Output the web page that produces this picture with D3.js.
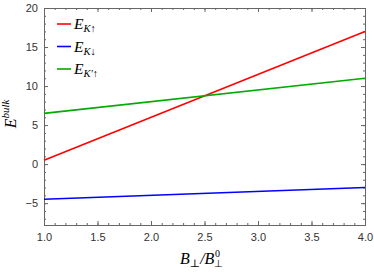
<!DOCTYPE html>
<html>
<head>
<meta charset="utf-8">
<script src="https://cdnjs.cloudflare.com/ajax/libs/d3/7.8.5/d3.min.js"></script>
<style>
  body { margin: 0; background: #fff; }
  .tick text { font-family: "Liberation Sans", Arial, sans-serif; font-size: 11px; fill: #333; }
  .math { font-family: "Liberation Serif", "DejaVu Serif", serif; font-style: italic; }
</style>
</head>
<body>
<div id="chart"></div>
<script>
// field values, B / B0 from 1 to 4
var xVals = [1, 4];
var eKup = [0.5, 17];
var eKdown = [-4.5, -3];
var eKpUp = [6.5, 11];
var seriesNames = ["K\u2191", "K\u2193", "K\u2032\u2191"];
var seriesColors = ["#ff0000", "#0000ff", "#00aa00"];
var xTicks = [1.0, 1.5, 2.0, 2.5, 3.0, 3.5, 4.0];
var yTicks = [-5, 0, 5, 10, 15, 20];

var W = 374, H = 273;
var margin = {left: 44, right: 9, top: 8, bottom: 48};

var svg = d3.select("#chart").append("svg")
    .attr("width", W).attr("height", H);

var x = d3.scaleLinear().domain([1, 4]).range([margin.left, W - margin.right]);
var y = d3.scaleLinear().domain([-7.8, 20]).range([H - margin.bottom, margin.top]);

var xMinor = d3.range(1, 4.0001, 0.1);
var yMinor = d3.range(-7, 20.001, 1);

function fmt(d) { return d < 0 ? "\u2212" + Math.abs(d) : d; }

// frame ticks on all four sides, pointing inward
var g = svg.append("g");
g.append("g").attr("transform", "translate(0," + y.range()[0] + ")")
    .call(d3.axisBottom(x).tickValues(xTicks).tickFormat(d3.format(".1f")).tickSize(-4).tickPadding(8));
g.append("g").attr("transform", "translate(0," + y.range()[0] + ")")
    .call(d3.axisBottom(x).tickValues(xMinor).tickFormat("").tickSize(-2));
g.append("g").attr("transform", "translate(0," + y.range()[1] + ")")
    .call(d3.axisTop(x).tickValues(xTicks).tickFormat("").tickSize(-4));
g.append("g").attr("transform", "translate(0," + y.range()[1] + ")")
    .call(d3.axisTop(x).tickValues(xMinor).tickFormat("").tickSize(-2));
g.append("g").attr("transform", "translate(" + x.range()[0] + ",0)")
    .call(d3.axisLeft(y).tickValues(yTicks).tickFormat(fmt).tickSize(-4).tickPadding(6));
g.append("g").attr("transform", "translate(" + x.range()[0] + ",0)")
    .call(d3.axisLeft(y).tickValues(yMinor).tickFormat("").tickSize(-2));
g.append("g").attr("transform", "translate(" + x.range()[1] + ",0)")
    .call(d3.axisRight(y).tickValues(yTicks).tickFormat("").tickSize(-4));
g.append("g").attr("transform", "translate(" + x.range()[1] + ",0)")
    .call(d3.axisRight(y).tickValues(yMinor).tickFormat("").tickSize(-2));
g.selectAll(".domain").attr("stroke", "#666");
g.selectAll(".tick line").attr("stroke", "#666");

var line = d3.line().x(function(d) { return x(d[0]); }).y(function(d) { return y(d[1]); });
[eKup, eKdown, eKpUp].forEach(function(s, i) {
    svg.append("path")
        .datum(xVals.map(function(xv, j) { return [xv, s[j]]; }))
        .attr("d", line)
        .attr("fill", "none")
        .attr("stroke", seriesColors[i])
        .attr("stroke-width", 1.6);
});

// legend
var leg = svg.append("g");
seriesNames.forEach(function(n, i) {
    var ly = 24 + i * 22.5;
    leg.append("line").attr("x1", 57).attr("x2", 71).attr("y1", ly).attr("y2", ly)
        .attr("stroke", seriesColors[i]).attr("stroke-width", 1.6);
    var t = leg.append("text").attr("class", "math").attr("x", 74).attr("y", ly + 5)
        .attr("font-size", 15.5);
    t.append("tspan").text("E");
    t.append("tspan").attr("font-size", 10.5).attr("dy", 3).text(n);
});

// axis labels
var yl = svg.append("text").attr("class", "math").attr("font-size", 16)
    .attr("transform", "translate(16," + 114 + ") rotate(-90)")
    .attr("text-anchor", "middle");
yl.append("tspan").text("E");
yl.append("tspan").attr("font-size", 11).attr("dy", -7).text("bulk");

// x label: B_perp / B_perp^0, sub and sup stacked on the last B
var xl = svg.append("text").attr("class", "math").attr("font-size", 16)
    .attr("x", 180).attr("y", 264);
xl.append("tspan").text("B");
xl.append("tspan").attr("font-size", 11).attr("dy", 3).attr("font-style", "normal").text("\u22a5");
xl.append("tspan").attr("dy", -3).text("/");
xl.append("tspan").text("B");
var xEnd = 180 + xl.node().getComputedTextLength();
svg.append("text").attr("x", xEnd).attr("y", 267)
    .attr("font-family", "Liberation Serif, serif").attr("font-size", 10).text("\u22a5");
svg.append("text").attr("x", xEnd + 0.5).attr("y", 257)
    .attr("font-family", "Liberation Serif, serif").attr("font-size", 10).text("0");
</script>
</body>
</html>
